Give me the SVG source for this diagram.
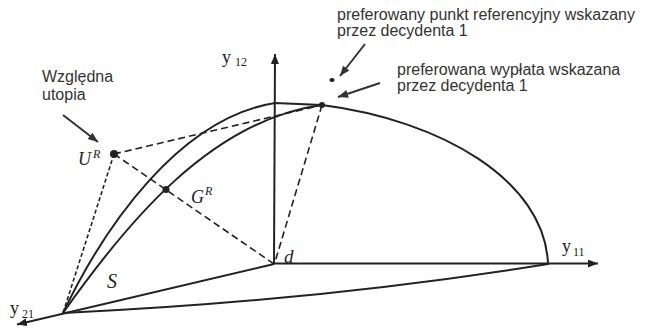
<svg xmlns="http://www.w3.org/2000/svg" width="648" height="328" viewBox="0 0 648 328">
<style>
.ann{font-family:"Liberation Sans",Arial,sans-serif;font-size:16px;fill:#333}
.math{font-family:"Liberation Serif","Times New Roman",serif;fill:#222}
.it{font-style:italic}
.solid{fill:none;stroke:#222;stroke-width:2;stroke-linejoin:round;stroke-linecap:round}
.axis{fill:none;stroke:#222;stroke-width:2}
.dash{fill:none;stroke:#222;stroke-width:1.6;stroke-dasharray:7 4}
.dot{fill:none;stroke:#222;stroke-width:1.6;stroke-dasharray:4 2.5}
.pt{fill:#222}
.ptr{fill:none;stroke:#333;stroke-width:2}
</style>
<defs>
<marker id="ah" viewBox="0 0 10 8" refX="10" refY="4" markerWidth="10" markerHeight="8" markerUnits="userSpaceOnUse" orient="auto">
<path d="M0,0 L10,4 L0,8 Z" fill="#222"/>
</marker>
<marker id="ah2" viewBox="0 0 10 8" refX="10" refY="4" markerWidth="11" markerHeight="8" markerUnits="userSpaceOnUse" orient="auto">
<path d="M0,0 L10,4 L0,8 Z" fill="#333"/>
</marker>
</defs>

<g id="axes">
<line class="axis" x1="274" y1="264" x2="275" y2="54" marker-end="url(#ah)"/>
<line class="axis" x1="274" y1="263.5" x2="598" y2="263.5" marker-end="url(#ah)"/>
<line class="axis" x1="274" y1="264" x2="17" y2="324.5" marker-end="url(#ah)"/>
</g>

<g id="region-S">
<path class="solid" d="M63,313 C105,225 180,118 275,103 L322,105 C440,120 545,180 548,264"/>
<path class="solid" d="M63,313 C125,225 210,120 322,105"/>
<path class="solid" d="M63,313 Q314.5,301.5 548,264"/>
</g>

<g id="connectors">
<line class="dash" x1="114" y1="154" x2="322" y2="105"/>
<line class="dash" x1="114" y1="154" x2="274" y2="264"/>
<line class="dash" x1="322" y1="105" x2="275" y2="262"/>
<line class="dot" x1="114" y1="154" x2="63" y2="313"/>
<line class="ptr" x1="63" y1="115" x2="98" y2="142" marker-end="url(#ah2)"/>
<line class="ptr" x1="365" y1="44" x2="340" y2="76" marker-end="url(#ah2)"/>
<line class="ptr" x1="380" y1="83" x2="338" y2="97" marker-end="url(#ah2)"/>
</g>

<g id="node-UR">
<circle class="pt" cx="114" cy="154" r="4"/>
<text class="math it" x="78" y="165" font-size="18">U<tspan font-size="12" dx="2" dy="-7">R</tspan></text>
</g>
<g id="node-GR">
<circle class="pt" cx="166" cy="189.5" r="3.5"/>
<text class="math it" x="191" y="203" font-size="18">G<tspan font-size="12" dx="1" dy="-8">R</tspan></text>
</g>
<g id="node-payoff">
<circle class="pt" cx="322" cy="105" r="3"/>
</g>
<g id="node-refpoint">
<ellipse class="pt" cx="332" cy="80" rx="2.6" ry="2.1"/>
</g>
<g id="node-d">
<text class="math it" x="284" y="263" font-size="19">d</text>
</g>
<g id="node-S">
<text class="math it" x="107" y="288" font-size="20">S</text>
</g>
<g id="label-y12">
<text class="math" x="222" y="63" font-size="18">y<tspan font-size="12" dx="4" dy="3">12</tspan></text>
</g>
<g id="label-y11">
<text class="math" x="562" y="252" font-size="18">y<tspan font-size="12" dx="2" dy="4">11</tspan></text>
</g>
<g id="label-y21">
<text class="math" x="10" y="314" font-size="18">y<tspan font-size="12" dx="3" dy="4">21</tspan></text>
</g>

<g id="note-utopia">
<text class="ann" x="42" y="82">Względna</text>
<text class="ann" x="42" y="100">utopia</text>
</g>
<g id="note-refpoint">
<text class="ann" x="337" y="20">preferowany punkt referencyjny wskazany</text>
<text class="ann" x="337" y="36">przez decydenta 1</text>
</g>
<g id="note-payoff">
<text class="ann" x="397" y="75">preferowana wypłata wskazana</text>
<text class="ann" x="397" y="91">przez decydenta 1</text>
</g>
</svg>
